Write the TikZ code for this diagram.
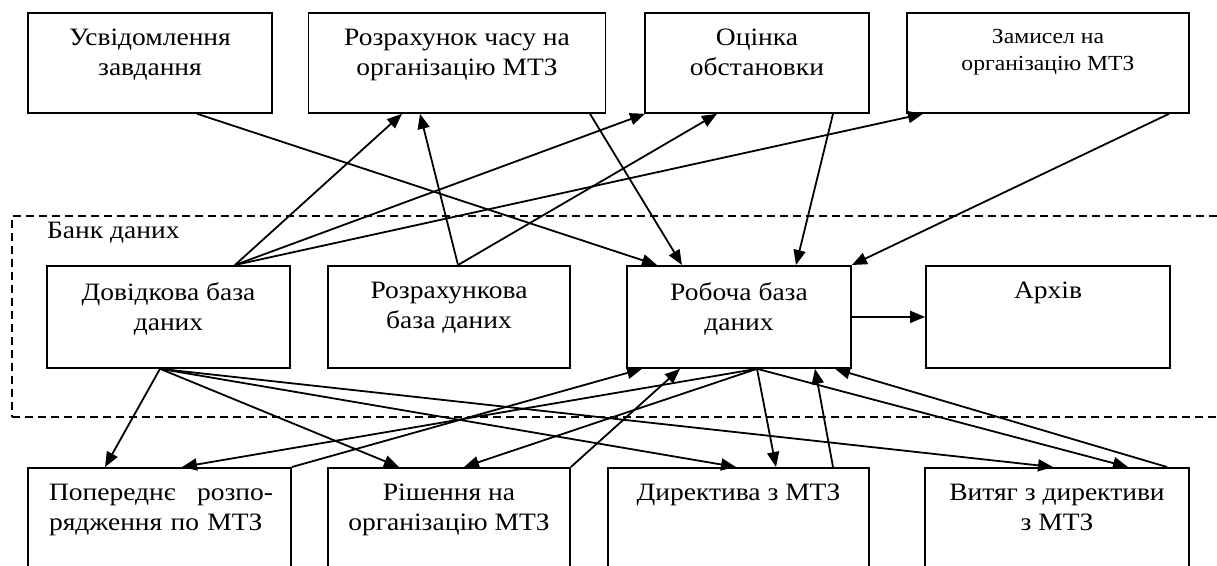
\documentclass[tikz,border=0pt]{standalone}
\usepackage{fontspec}
\setmainfont{Liberation Serif}[FakeStretch=1.1]
\usetikzlibrary{arrows.meta}

\begin{document}
\begin{tikzpicture}[
    x=1pt, y=-1pt,
    font=\fontsize{25}{30}\selectfont,
    >={Triangle[length=15pt, width=12pt]},
    blk/.style={draw, line width=1.8pt, anchor=north, inner sep=0pt, minimum width=#1},
    upbox/.style={blk=#1, minimum height=100pt},
    midbox/.style={blk=#1, minimum height=102pt},
    lowbox/.style={blk=#1, minimum height=130pt},
    lbl/.style={anchor=north, yshift=-17pt, inner sep=0pt, align=center},
    small/.style={font=\fontsize{21.5}{27}\selectfont},
    bank/.style={draw, dash pattern=on 8pt off 5pt, line width=1.8pt, anchor=north west, inner sep=0pt},
    arr/.style={->, line width=1.8pt}
  ]
    \useasboundingbox (0,0) rectangle (1217,565);

    \node[bank, minimum width=1230pt, minimum height=201pt] (bank) at (11,215) {};
    \node[anchor=west, inner sep=0pt] (banklab) at ([xshift=36pt, yshift=-18pt]bank.north west) {Банк даних};

    \node[upbox=244pt, label={[lbl]north:{Усвідомлення\\завдання}}] (usv) at (150,12) {};
    \node[upbox=297pt, label={[lbl]north:{Розрахунок часу на\\організацію МТЗ}}] (chas) at (457,12) {};
    \node[upbox=224pt, label={[lbl]north:{Оцінка\\обстановки}}] (ocin) at (757,12) {};
    \node[upbox=282pt, label={[lbl, small]north:{Замисел на\\організацію МТЗ}}] (zamysel) at (1048,12) {};

    \node[midbox=243pt, label={[lbl]north:{Довідкова база\\даних}}] (dovid) at (168.5,265) {};
    \node[midbox=242pt, label={[lbl]north:{Розрахункова\\база даних}}] (rozr) at (449,265) {};
    \node[midbox=224pt, label={[lbl]north:{Робоча база\\даних}}] (robocha) at (739,265) {};
    \node[midbox=244pt, label={[lbl]north:{Архів}}] (arkhiv) at (1048,265) {};

    \node[lowbox=263pt, label={[lbl, text width=224pt, align=left, xshift=1.5pt]north:{Попереднє\hfill розпо-\\рядження по МТЗ}}] (poper) at (159.5,467) {};
    \node[lowbox=242pt, label={[lbl]north:{Рішення на\\організацію МТЗ}}] (rish) at (449,467) {};
    \node[lowbox=261pt, label={[lbl]north:{Директива з МТЗ}}] (dyrekt) at (738.5,467) {};
    \node[lowbox=264pt, label={[lbl]north:{Витяг з директиви\\з МТЗ}}] (vytyag) at (1057,467) {};

    \draw[arr] ([xshift=47pt]usv.south) -- ([xshift=-82pt]robocha.north);
    \draw[arr] ([xshift=133pt]chas.south) -- ([xshift=-57pt]robocha.north);
    \draw[arr] ([xshift=76pt]ocin.south) -- ([xshift=57pt]robocha.north);
    \draw[arr] ([xshift=121pt]zamysel.south) -- (robocha.north east);
    \foreach \dst/\dx in {chas/-55, ocin/-112, zamysel/-125}
      \draw[arr] ([xshift=66.5pt]dovid.north) -- ([xshift=\dx pt]\dst.south);
    \draw[arr] ([xshift=9pt]rozr.north) -- ([xshift=-37pt]chas.south);
    \draw[arr] ([xshift=9pt]rozr.north) -- ([xshift=-40pt]ocin.south);
    \draw[arr] (robocha) -- (arkhiv);

    \foreach \dst/\dx in {poper/-54.5, rish/-50, dyrekt/-2.5, vytyag/-4}
      \draw[arr] ([xshift=-8.5pt]dovid.south) -- ([xshift=\dx pt]\dst.north);
    \foreach \dst/\dx in {poper/22.5, rish/15, dyrekt/37.5, vytyag/71}
      \draw[arr] ([xshift=18pt]robocha.south) -- ([xshift=\dx pt]\dst.north);
    \draw[arr] (poper.north east) -- ([xshift=-97pt]robocha.south);
    \draw[arr] (rish.north east) -- ([xshift=-59pt]robocha.south);
    \draw[arr] ([xshift=94.5pt]dyrekt.north) -- ([xshift=76pt]robocha.south);
    \draw[arr] ([xshift=110pt]vytyag.north) -- ([xshift=96pt]robocha.south);
\end{tikzpicture}
\end{document}
